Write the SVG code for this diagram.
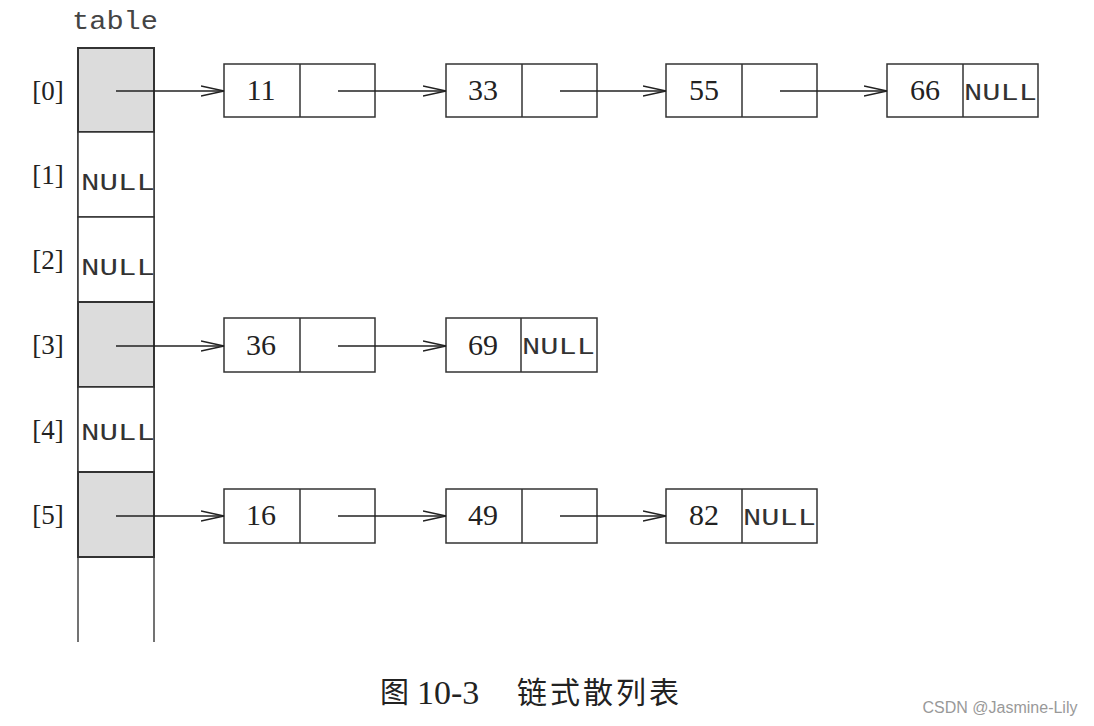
<svg xmlns="http://www.w3.org/2000/svg" width="1094" height="726" viewBox="0 0 1094 726">
<style>
.box{fill:#fff;stroke:#333;stroke-width:1.5}
.shade{fill:#dcdcdc;stroke:#333;stroke-width:2}
.num{font-family:"Liberation Serif",serif;font-size:30px;fill:#222;text-anchor:middle}
.idx{font-family:"Liberation Serif",serif;font-size:27px;fill:#222;text-anchor:middle}
.null{font-family:"Liberation Mono",monospace;font-size:23px;fill:#333}
.conn{stroke:#222;stroke-width:1.5;fill:none;marker-end:url(#ah)}
</style>
<defs>
<marker id="ah" viewBox="0 0 24 12" refX="23" refY="6" markerWidth="24" markerHeight="12" markerUnits="userSpaceOnUse" orient="auto">
<path d="M0,1 L23,6 L0,11" fill="none" stroke="#222" stroke-width="1.5"/>
</marker>
</defs>
<rect width="1094" height="726" fill="#fff"/>
<g id="table">
<text x="72" y="29" font-family="Liberation Mono,monospace" font-size="25" fill="#444" textLength="86" lengthAdjust="spacingAndGlyphs">table</text>
<line x1="78" y1="48" x2="78" y2="642" stroke="#444" stroke-width="1.5"/>
<line x1="154" y1="48" x2="154" y2="642" stroke="#444" stroke-width="1.5"/>
<rect class="shade" x="78" y="48" width="76" height="84"/>
<rect class="box" x="78" y="132" width="76" height="85"/>
<rect class="box" x="78" y="217" width="76" height="85"/>
<rect class="shade" x="78" y="302" width="76" height="85"/>
<rect class="box" x="78" y="387" width="76" height="85"/>
<rect class="shade" x="78" y="472" width="76" height="85"/>
<text class="idx" x="48" y="100">[0]</text>
<text class="idx" x="48" y="184">[1]</text>
<text class="idx" x="48" y="269">[2]</text>
<text class="idx" x="48" y="354">[3]</text>
<text class="idx" x="48" y="439">[4]</text>
<text class="idx" x="48" y="524">[5]</text>
<text class="null" x="81" y="190" textLength="74" lengthAdjust="spacingAndGlyphs">NULL</text>
<text class="null" x="81" y="275" textLength="74" lengthAdjust="spacingAndGlyphs">NULL</text>
<text class="null" x="81" y="440" textLength="74" lengthAdjust="spacingAndGlyphs">NULL</text>
</g>
<g id="n11"><rect class="box" x="224" y="64" width="151" height="53"/><line x1="300" y1="64" x2="300" y2="117" stroke="#333" stroke-width="1.5"/><text class="num" x="261" y="100">11</text></g>
<g id="n33"><rect class="box" x="446" y="64" width="151" height="53"/><line x1="522" y1="64" x2="522" y2="117" stroke="#333" stroke-width="1.5"/><text class="num" x="483" y="100">33</text></g>
<g id="n55"><rect class="box" x="666" y="64" width="151" height="53"/><line x1="742" y1="64" x2="742" y2="117" stroke="#333" stroke-width="1.5"/><text class="num" x="704" y="100">55</text></g>
<g id="n66"><rect class="box" x="887" y="64" width="151" height="53"/><line x1="963" y1="64" x2="963" y2="117" stroke="#333" stroke-width="1.5"/><text class="num" x="925" y="100">66</text><text class="null" x="964" y="100" textLength="73" lengthAdjust="spacingAndGlyphs">NULL</text></g>
<g id="n36"><rect class="box" x="224" y="318" width="151" height="54"/><line x1="300" y1="318" x2="300" y2="372" stroke="#333" stroke-width="1.5"/><text class="num" x="261" y="355">36</text></g>
<g id="n69"><rect class="box" x="446" y="318" width="151" height="54"/><line x1="521" y1="318" x2="521" y2="372" stroke="#333" stroke-width="1.5"/><text class="num" x="483" y="355">69</text><text class="null" x="522" y="354" textLength="73" lengthAdjust="spacingAndGlyphs">NULL</text></g>
<g id="n16"><rect class="box" x="224" y="489" width="151" height="54"/><line x1="300" y1="489" x2="300" y2="543" stroke="#333" stroke-width="1.5"/><text class="num" x="261" y="525">16</text></g>
<g id="n49"><rect class="box" x="446" y="489" width="151" height="54"/><line x1="522" y1="489" x2="522" y2="543" stroke="#333" stroke-width="1.5"/><text class="num" x="483" y="525">49</text></g>
<g id="n82"><rect class="box" x="666" y="489" width="151" height="54"/><line x1="742" y1="489" x2="742" y2="543" stroke="#333" stroke-width="1.5"/><text class="num" x="704" y="525">82</text><text class="null" x="743" y="525" textLength="73" lengthAdjust="spacingAndGlyphs">NULL</text></g>
<g id="connectors">
<line class="conn" x1="116" y1="91" x2="224" y2="91"/>
<line class="conn" x1="338" y1="91" x2="446" y2="91"/>
<line class="conn" x1="560" y1="91" x2="666" y2="91"/>
<line class="conn" x1="780" y1="91" x2="887" y2="91"/>
<line class="conn" x1="116" y1="346" x2="224" y2="346"/>
<line class="conn" x1="338" y1="346" x2="446" y2="346"/>
<line class="conn" x1="116" y1="516" x2="224" y2="516"/>
<line class="conn" x1="338" y1="516" x2="446" y2="516"/>
<line class="conn" x1="560" y1="516" x2="666" y2="516"/>
</g>
<g id="caption" font-family="Liberation Serif,Noto Sans CJK SC,serif" fill="#222">
<text x="380" y="703" font-size="29">图</text>
<text x="417" y="704" font-size="34">10-3</text>
<text x="517" y="703" font-size="30" letter-spacing="3">链式散列表</text>
</g>
<text x="1000" y="713" font-family="Liberation Sans,Arial,sans-serif" font-size="16" fill="#999" text-anchor="middle">CSDN @Jasmine-Lily</text>
</svg>
